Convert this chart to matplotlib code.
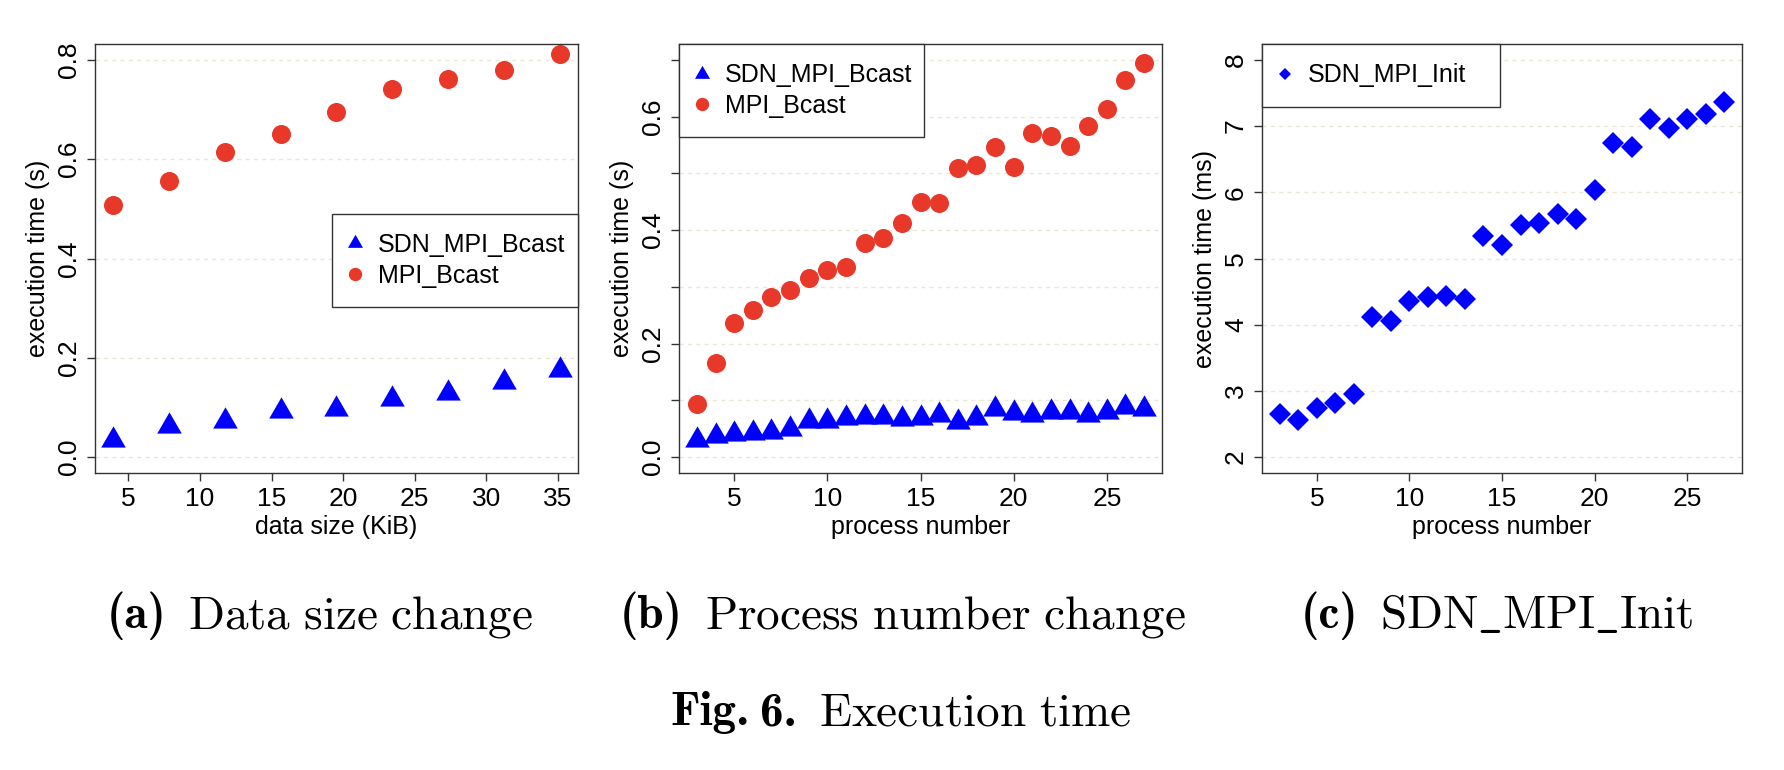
import numpy as np
import matplotlib
matplotlib.use("Agg")
import matplotlib.pyplot as plt
from matplotlib.lines import Line2D
from matplotlib.offsetbox import TextArea, HPacker, AnnotationBbox

plt.rcParams['font.family'] = ['Liberation Sans', 'DejaVu Sans']
plt.rcParams['mathtext.fontset'] = 'cm'

# data
size_kib = [3.91, 7.81, 11.72, 15.63, 19.53, 23.44, 27.34, 31.25, 35.16]
a_sdn = [0.034, 0.063, 0.073, 0.093, 0.096, 0.118, 0.129, 0.152, 0.176]
a_mpi = [0.507, 0.557, 0.614, 0.651, 0.696, 0.741, 0.761, 0.779, 0.812]

procs = list(range(3, 28))
b_sdn = [0.031, 0.038, 0.041, 0.043, 0.044, 0.049, 0.064, 0.063, 0.069, 0.071,
         0.071, 0.067, 0.069, 0.075, 0.062, 0.069, 0.084, 0.077, 0.075, 0.079,
         0.080, 0.074, 0.079, 0.088, 0.084]
b_mpi = [0.094, 0.165, 0.236, 0.259, 0.283, 0.295, 0.315, 0.329, 0.335, 0.378,
         0.386, 0.412, 0.450, 0.447, 0.510, 0.515, 0.546, 0.512, 0.572, 0.565,
         0.548, 0.584, 0.614, 0.665, 0.695]
c_init = [2.65, 2.56, 2.74, 2.82, 2.95, 4.11, 4.06, 4.36, 4.42, 4.44, 4.39,
          5.34, 5.21, 5.50, 5.54, 5.67, 5.59, 6.04, 6.74, 6.69, 7.10, 6.97,
          7.11, 7.18, 7.36]

cap_tags = ['(a)', '(b)', '(c)']
cap_texts = [r'$\mathrm{Data\ size\ change}$',
             r'$\mathrm{Process\ number\ change}$',
             r'$\mathrm{SDN\_MPI\_Init}$']
title_tag = ['Fig.', '6.']
title_text = r'$\mathrm{Execution\ time}$'

BLUE = '#0000ff'
RED = '#e8382a'
GRID = '#ebe7d6'
FRAME = '#333333'
FS = 18
TICK_FS = 19
CAP_FS = 34
# R-style triangle (centroid at the data point)
TRI = [(0, 1), (-0.866, -0.5), (0.866, -0.5)]


def r_lim(lo, hi):
    pad = 0.04 * (hi - lo)
    return lo - pad, hi + pad


def style_axes(ax, xlabel, ylabel):
    for s in ax.spines.values():
        s.set_color(FRAME)
        s.set_linewidth(1.0)
    ax.tick_params(axis='both', direction='out', length=6, width=1.0,
                   color=FRAME, labelsize=TICK_FS, pad=4)
    ax.tick_params(axis='y', labelrotation=90)
    for lab in ax.get_yticklabels():
        lab.set_va('center')
    ax.yaxis.grid(True, color=GRID, linestyle=(0, (3, 3)), linewidth=1.0)
    ax.set_axisbelow(True)
    ax.set_xlabel(xlabel, fontsize=FS, labelpad=3)
    ax.set_ylabel(ylabel, fontsize=FS, labelpad=5)


def add_legend(ax, handles, labels, bbox):
    leg = ax.legend(handles, labels, loc='upper left', bbox_to_anchor=bbox,
                    mode='expand', borderaxespad=0, fontsize=FS,
                    fancybox=False, framealpha=1, edgecolor=FRAME,
                    borderpad=0.77, labelspacing=0.26, handlelength=0.3,
                    handletextpad=0.77)
    leg.get_frame().set_linewidth(1.0)
    return leg


def caption(fig, x, y, bold_parts, regular, inner=8, outer=16):
    bold = [TextArea(p, textprops=dict(family='cmb10', size=CAP_FS)) for p in bold_parts]
    tag = HPacker(children=bold, align='baseline', pad=0, sep=inner)
    body = TextArea(regular, textprops=dict(size=CAP_FS))
    box = HPacker(children=[tag, body], align='baseline', pad=0, sep=outer)
    ab = AnnotationBbox(box, (x, y), xycoords='figure fraction',
                        box_alignment=(0.5, 0.0), frameon=False, pad=0)
    fig.add_artist(ab)


fig = plt.figure(figsize=(17.84, 7.70), dpi=100)
W, H = 1784, 770
ax_a = fig.add_axes([95 / W, (770 - 473) / H, 483 / W, 429 / H])
ax_b = fig.add_axes([679 / W, (770 - 473) / H, 483 / W, 429 / H])
ax_c = fig.add_axes([1262 / W, (770 - 473) / H, 480 / W, 429 / H])

# (a) data size change
ax_a.plot(size_kib, a_sdn, linestyle='none', marker=TRI, ms=20.4, mew=0, color=BLUE)
ax_a.plot(size_kib, a_mpi, linestyle='none', marker='o', ms=13.7, mew=0, color=RED)
ax_a.set_xlim(r_lim(min(size_kib), max(size_kib)))
ax_a.set_ylim(r_lim(0, 0.8))
ax_a.set_xticks(np.arange(5, 36, 5))
ax_a.set_yticks(np.arange(0, 0.81, 0.2))
ax_a.set_yticklabels([f'{v:.1f}' for v in np.arange(0, 0.81, 0.2)])
style_axes(ax_a, 'data size (KiB)', 'execution time (s)')
h_sdn = Line2D([], [], linestyle='none', marker=TRI, ms=12.5, mew=0, color=BLUE)
h_mpi = Line2D([], [], linestyle='none', marker='o', ms=9.6, mew=0, color=RED)
add_legend(ax_a, [h_sdn, h_mpi], ['SDN_MPI_Bcast', 'MPI_Bcast'],
           (0.491, 0.394, 0.509, 0.21))

# (b) process number change
ax_b.plot(procs, b_sdn, linestyle='none', marker=TRI, ms=20.4, mew=0, color=BLUE)
ax_b.plot(procs, b_mpi, linestyle='none', marker='o', ms=13.7, mew=0, color=RED)
ax_b.set_xlim(r_lim(min(procs), max(procs)))
ax_b.set_ylim(r_lim(0, 0.7))
b_ticks = np.arange(0, 0.71, 0.1)
ax_b.set_xticks(np.arange(5, 26, 5))
ax_b.set_yticks(b_ticks)
ax_b.set_yticklabels([f'{v:.1f}' if i % 2 == 0 else '' for i, v in enumerate(b_ticks)])
style_axes(ax_b, 'process number', 'execution time (s)')
add_legend(ax_b, [h_sdn, h_mpi], ['SDN_MPI_Bcast', 'MPI_Bcast'],
           (0.0, 0.79, 0.507, 0.21))

# (c) SDN_MPI_Init
ax_c.plot(procs, c_init, linestyle='none', marker='D', ms=10.7, mew=0, color=BLUE)
ax_c.set_xlim(r_lim(min(procs), max(procs)))
ax_c.set_ylim(r_lim(2, 8))
ax_c.set_xticks(np.arange(5, 26, 5))
ax_c.set_yticks(np.arange(2, 9, 1))
style_axes(ax_c, 'process number', 'execution time (ms)')
h_init = Line2D([], [], linestyle='none', marker='D', ms=5.8, mew=0, color=BLUE)
add_legend(ax_c, [h_init], ['SDN_MPI_Init'], (0.0, 0.845, 0.496, 0.155))

# captions (bottom of box sits ~11 px under the baseline)
for cx, tag, txt in zip([320, 903, 1497], cap_tags, cap_texts):
    caption(fig, cx / W, 1 - 640 / H, [tag], txt)
caption(fig, 901 / W, 1 - 735 / H, title_tag, title_text)

fig.savefig('out.png', dpi=100, facecolor='white')
